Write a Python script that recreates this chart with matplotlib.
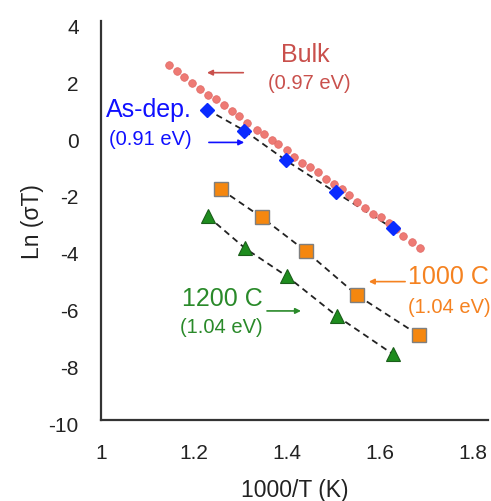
import matplotlib.pyplot as plt
import matplotlib.transforms as mtransforms

plt.rcParams['font.family'] = ['Liberation Sans', 'DejaVu Sans']
plt.rcParams['axes.unicode_minus'] = False

# Bulk (pink dots)
bulk_x = [1.147, 1.163, 1.178, 1.195, 1.213, 1.231, 1.247, 1.265, 1.281, 1.297,
          1.314, 1.335, 1.351, 1.367, 1.381, 1.399, 1.416, 1.432, 1.449, 1.466,
          1.484, 1.500, 1.518, 1.534, 1.550, 1.568, 1.584, 1.602, 1.619, 1.634,
          1.650, 1.668, 1.685]
bulk_y = [2.449, 2.263, 2.053, 1.832, 1.632, 1.396, 1.281, 1.046, 0.860, 0.660,
          0.428, 0.193, 0.042, -0.158, -0.333, -0.526, -0.765, -0.975, -1.116, -1.291,
          -1.537, -1.712, -1.912, -2.123, -2.344, -2.579, -2.789, -2.884, -3.081, -3.298,
          -3.551, -3.761, -3.958]

# As-deposited (blue diamonds)
asdep_x = [1.228, 1.308, 1.398, 1.505, 1.628]
asdep_y = [0.895, 0.158, -0.895, -2.018, -3.281]

# 1000 C anneal (orange squares)
a1000_x = [1.258, 1.346, 1.441, 1.551, 1.684]
a1000_y = [-1.912, -2.895, -4.088, -5.632, -7.035]

# 1200 C anneal (green triangles)
a1200_x = [1.230, 1.310, 1.400, 1.508, 1.628]
a1200_y = [-2.860, -3.982, -4.965, -6.368, -7.702]

xticks = [1, 1.2, 1.4, 1.6, 1.8]
yticks = [4, 2, 0, -2, -4, -6, -8, -10]

c_bulk = '#c9504c'
c_blue = '#1010ff'
c_orange = '#f58220'
c_green = '#2a8a2a'

fig = plt.figure(figsize=(4.91, 5.02), dpi=100)
ax = fig.add_axes([0.2057, 0.162, 0.788, 0.795])

dash = dict(color='#222222', lw=1.3, ls=(0, (3.5, 2.5)), zorder=2)
ax.plot(asdep_x, asdep_y, **dash)
ax.plot(a1000_x, a1000_y, **dash)
ax.plot(a1200_x, a1200_y, **dash)

ax.plot(bulk_x, bulk_y, 'o', ms=5.5, color='#ee7a74', mec='#e06a66', mew=0.5, zorder=3)
ax.plot(asdep_x, asdep_y, 'D', ms=7.5, color='#0a2bff', mec='#0a2bff', zorder=4)
ax.plot(a1000_x, a1000_y, 's', ms=10, color='#f5870f', mec='#7f7f7f', mew=1.0, zorder=4)
ax.plot(a1200_x, a1200_y, '^', ms=10, color='#1e8c1e', mec='#1a5e1a', mew=0.8, zorder=4)

# labels and arrows
ax.text(1.439, 2.83, 'Bulk', color=c_bulk, fontsize=18, ha='center', va='center')
ax.text(1.449, 1.84, '(0.97 eV)', color=c_bulk, fontsize=14.5, ha='center', va='center')
ax.annotate('', xy=(1.222, 2.19), xytext=(1.312, 2.19),
            arrowprops=dict(arrowstyle='-|>', color=c_bulk, lw=1.2, mutation_scale=8))

ax.text(1.103, 0.9, 'As-dep.', color=c_blue, fontsize=18, ha='center', va='center')
ax.text(1.105, -0.12, '(0.91 eV)', color=c_blue, fontsize=14.5, ha='center', va='center')
ax.annotate('', xy=(1.314, -0.26), xytext=(1.226, -0.26),
            arrowprops=dict(arrowstyle='-|>', color=c_blue, lw=1.2, mutation_scale=8))

ax.text(1.748, -4.95, '1000 C', color=c_orange, fontsize=18, ha='center', va='center')
ax.text(1.748, -6.01, '(1.04 eV)', color=c_orange, fontsize=14.5, ha='center', va='center')
ax.annotate('', xy=(1.570, -5.15), xytext=(1.660, -5.15),
            arrowprops=dict(arrowstyle='-|>', color=c_orange, lw=1.2, mutation_scale=8))

ax.text(1.261, -5.71, '1200 C', color=c_green, fontsize=18, ha='center', va='center')
ax.text(1.259, -6.71, '(1.04 eV)', color=c_green, fontsize=14.5, ha='center', va='center')
ax.annotate('', xy=(1.436, -6.18), xytext=(1.351, -6.18),
            arrowprops=dict(arrowstyle='-|>', color=c_green, lw=1.2, mutation_scale=8))

ax.set_xlim(1, 1.832)
ax.set_ylim(-10, 4.02)
ax.set_xticks(xticks)
ax.set_xticklabels(['1', '1.2', '1.4', '1.6', '1.8'])
ax.set_yticks(yticks)
ax.tick_params(length=0, labelsize=15, colors='#222222')
ax.tick_params(axis='x', pad=17)
ax.tick_params(axis='y', pad=16)
for lab in ax.get_yticklabels():
    lab.set_transform(lab.get_transform() +
                      mtransforms.ScaledTranslation(0, -0.04, fig.dpi_scale_trans))

for s in ['top', 'right']:
    ax.spines[s].set_visible(False)
for s in ['left', 'bottom']:
    ax.spines[s].set_color('#333333')
    ax.spines[s].set_linewidth(1.6)

ax.set_xlabel('1000/T (K)', fontsize=16.5, color='#222222', labelpad=11)
ax.set_ylabel('Ln (σT)', fontsize=16.5, color='#222222', labelpad=3)

fig.savefig('out.png', dpi=100)
